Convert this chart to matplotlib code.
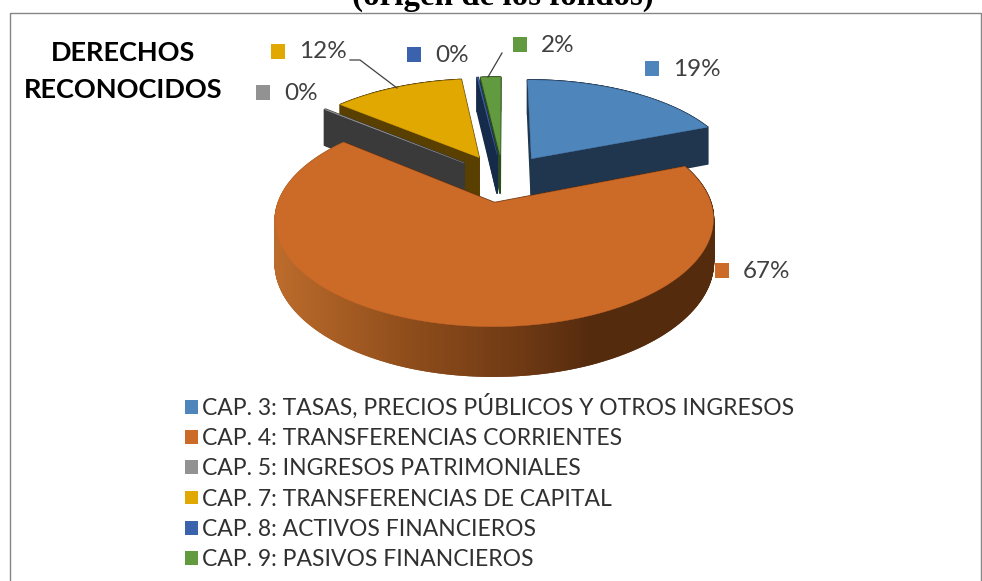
import numpy as np
import matplotlib
matplotlib.use("Agg")
import matplotlib.pyplot as plt
from matplotlib.colors import LinearSegmentedColormap
from matplotlib.patches import Patch, Rectangle

# data
categories = [
    "CAP. 3: TASAS, PRECIOS PÚBLICOS Y OTROS INGRESOS",
    "CAP. 4: TRANSFERENCIAS CORRIENTES",
    "CAP. 5: INGRESOS PATRIMONIALES",
    "CAP. 7: TRANSFERENCIAS DE CAPITAL",
    "CAP. 8: ACTIVOS FINANCIEROS",
    "CAP. 9: PASIVOS FINANCIEROS",
]
values = [19.0, 67.0, 0.1, 12.0, 0.1, 1.8]
colors = ["#4e85bb", "#cc6a28", "#929292", "#e0a800", "#3b62ad", "#629b3f"]
wall_colors = ["#20364f", "#5a2c0e", "#3a3a3a", "#5a4000", "#162a4a", "#2f4c1f"]

# layout, in pixels of the 982x581 picture
CX, CY = 503, 178
RX, RY = 208, 96.3
CAMERA = 6.5
EXPLODE = 0.25
DEPTH = 40
label_spots = [(645, 68), (715, 270), (256, 92), (271, 51), (407, 54), (513, 44)]

plt.rcParams["font.family"] = ["Lato", "DejaVu Sans"]

fig = plt.figure(figsize=(9.82, 5.81), dpi=100)
ax = fig.add_axes([0, 0, 1, 1])
ax.set_xlim(0, 982)
ax.set_ylim(581, 0)
ax.axis("off")


def project(x, y, h=0):
    """Flat disc coordinates to picture pixels, with a bit of perspective."""
    s = CAMERA / (CAMERA + y)
    return CX + RX * x * s, CY - RY * y * s + h * s


def quad(p0, p1, color, zorder):
    # side wall hanging below the edge p0-p1
    a = project(p0[0], p0[1])
    b = project(p1[0], p1[1])
    c = project(p1[0], p1[1], DEPTH)
    d = project(p0[0], p0[1], DEPTH)
    ax.fill([a[0], b[0], c[0], d[0]], [a[1], b[1], c[1], d[1]],
            color=color, lw=1.2, zorder=zorder)


front_shade = LinearSegmentedColormap.from_list(
    "front", [(0, "#bb6b2b"), (0.3, "#8f4d1b"), (0.55, "#703a14"), (0.72, "#552b0e"), (1, "#552b0e")])

fractions = np.array(values) / sum(values)
ends = np.cumsum(fractions) * 2 * np.pi
starts = ends - fractions * 2 * np.pi

# back slices first, each one covers what is behind it
mids = (starts + ends) / 2
draw_order = np.argsort(-np.cos(mids))
for n, i in enumerate(draw_order):
    zorder = 2 + n
    ox, oy = EXPLODE * np.sin(mids[i]), EXPLODE * np.cos(mids[i])
    angles = np.linspace(starts[i], ends[i], max(2, int(fractions[i] * 1080)))
    rim = [(ox + np.sin(a), oy + np.cos(a)) for a in angles]

    for p0, p1 in zip(rim[:-1], rim[1:]):
        color = wall_colors[i]
        if i == 1:
            color = front_shade((project(*p0)[0] - 277) / 437)
        quad(p0, p1, color, zorder)
    quad((ox, oy), rim[0], wall_colors[i], zorder)
    quad((ox, oy), rim[-1], wall_colors[i], zorder)

    top = [project(ox, oy)] + [project(*p) for p in rim]
    ax.fill([p[0] for p in top], [p[1] for p in top], color=colors[i], lw=0.3, zorder=zorder)

# percentage labels with their small squares
for i, (x, y) in enumerate(label_spots):
    ax.add_patch(Rectangle((x, y - 7), 14.5, 14.5, color=colors[i], lw=0, zorder=20))
    ax.text(x + 28, y + 1, f"{round(values[i])}%", fontsize=17.5, color="#404040",
            va="center", ha="left", zorder=20)

# leader lines
ax.plot([350, 360, 397], [60, 60, 88], color="#404040", lw=0.9, zorder=20)
ax.plot([502, 488], [53, 77], color="#404040", lw=0.9, zorder=20)

ax.text(123, 53, "DERECHOS", fontsize=19.5, fontweight="bold", color="black", ha="center", va="center")
ax.text(123, 90, "RECONOCIDOS", fontsize=19.5, fontweight="bold", color="black", ha="center", va="center")

# title is cut by the top of the picture
ax.text(502.5, 5, "(origen de los fondos)", family="Liberation Serif", fontsize=23.8, fontweight="bold",
        ha="center", va="baseline", color="black")

# chart frame
ax.add_patch(Rectangle((10, 12.5), 971, 600, fill=False, edgecolor="#868686", lw=1, clip_on=True, zorder=1))

handles = [Patch(facecolor=c, edgecolor="none") for c in colors]
ax.legend(handles, categories, loc="upper left", bbox_to_anchor=(185 / 982, 1 - 394 / 581),
          frameon=False, fontsize=16.5, labelcolor="#303030", handlelength=0.55, handleheight=0.55,
          handletextpad=0.2, labelspacing=0.4, borderpad=0, borderaxespad=0)

fig.savefig("out.png", dpi=100)
